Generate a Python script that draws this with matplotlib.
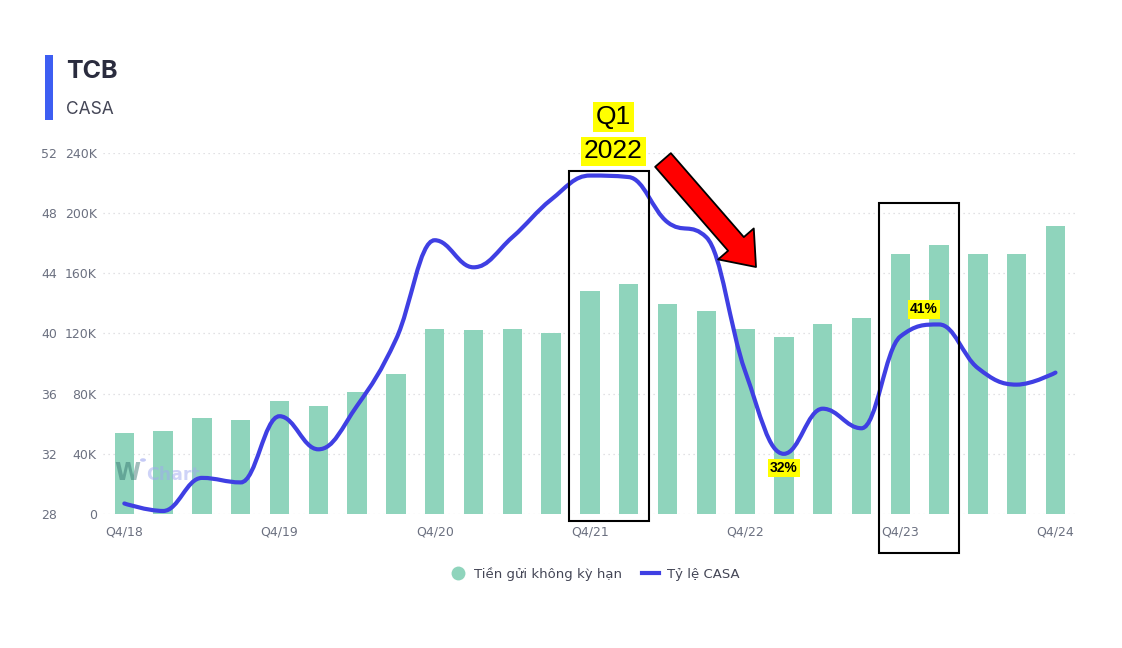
import matplotlib
matplotlib.use("Agg")
import matplotlib.pyplot as plt
import numpy as np
from matplotlib.path import Path
from matplotlib.patches import PathPatch, Rectangle, FancyArrowPatch, Circle
from matplotlib.lines import Line2D

plt.rcParams['font.family'] = ['DejaVu Sans']

# quý
quarters = ['Q4/18', 'Q1/19', 'Q2/19', 'Q3/19', 'Q4/19', 'Q1/20', 'Q2/20', 'Q3/20',
            'Q4/20', 'Q1/21', 'Q2/21', 'Q3/21', 'Q4/21', 'Q1/22', 'Q2/22', 'Q3/22',
            'Q4/22', 'Q1/23', 'Q2/23', 'Q3/23', 'Q4/23', 'Q1/24', 'Q2/24', 'Q3/24', 'Q4/24']
# Tiền gửi không kỳ hạn (nghìn tỷ -> K)
casa_dep = [54, 55, 64, 62.5, 75, 72, 81, 93, 123, 122, 123, 120, 148, 153,
            139.5, 135, 123, 118, 126, 130, 173, 179, 173, 173, 191.5]
# Tỷ lệ CASA (%)
casa_ratio = [28.7, 28.2, 30.4, 30.1, 34.5, 32.3, 35.2, 39.6, 46.2, 44.4, 46.4,
              48.9, 50.5, 50.4, 47.4, 46.4, 37.5, 32.0, 35.0, 33.7, 39.8, 40.6,
              37.7, 36.6, 37.4]

bar_color = '#8fd4bc'
line_color = '#3f3fe3'
grey = '#6b7080'


def spline_path(xs, ys):
    # kiểu spline của Highcharts (bezier, smoothing 1.5)
    n = len(xs)
    lc = [(xs[0], ys[0])] * n
    rc = [(xs[0], ys[0])] * n
    for i in range(n):
        x, y = xs[i], ys[i]
        if 0 < i < n - 1:
            xl, yl, xn, yn = xs[i - 1], ys[i - 1], xs[i + 1], ys[i + 1]
            lcx = (1.5 * x + xl) / 2.5
            lcy = (1.5 * y + yl) / 2.5
            rcx = (1.5 * x + xn) / 2.5
            rcy = (1.5 * y + yn) / 2.5
            corr = (rcy - lcy) * (rcx - x) / (rcx - lcx) + y - rcy
            lcy += corr
            rcy += corr
            if lcy > yl and lcy > y:
                lcy = max(yl, y); rcy = 2 * y - lcy
            elif lcy < yl and lcy < y:
                lcy = min(yl, y); rcy = 2 * y - lcy
            if rcy > yn and rcy > y:
                rcy = max(yn, y); lcy = 2 * y - rcy
            elif rcy < yn and rcy < y:
                rcy = min(yn, y); lcy = 2 * y - rcy
            lc[i] = (lcx, lcy)
            rc[i] = (rcx, rcy)
        else:
            lc[i] = (x, y)
            rc[i] = (x, y)
    verts = [(xs[0], ys[0])]
    codes = [Path.MOVETO]
    for i in range(1, n):
        verts += [rc[i - 1], lc[i], (xs[i], ys[i])]
        codes += [Path.CURVE4] * 3
    return Path(verts, codes)


fig = plt.figure(figsize=(11.22, 6.48), dpi=100)
ax = fig.add_axes([0.0918, 0.2068, 0.8662, 0.5571])
ax2 = ax.twinx()

x = np.arange(len(quarters))
ax.bar(x, casa_dep, width=0.5, color=bar_color, zorder=2)
ax.set_ylim(0, 240)
ax.set_yticks(np.arange(0, 241, 40))
ax.set_yticklabels(['0'] + ['%dK' % v for v in range(40, 241, 40)])
ax.set_xlim(-0.55, 24.5)
ax.set_xticks(x[::4])
ax.set_xticklabels(quarters[::4])
ax.grid(axis='y', color='#d8d8dc', linestyle=(0, (1, 3)), linewidth=0.9, zorder=0)
ax.set_axisbelow(True)
ax.tick_params(axis='y', length=0, pad=4.5, labelsize=9, labelcolor=grey)
ax.tick_params(axis='x', length=0, pad=8, labelsize=9, labelcolor=grey)

ax2.add_patch(PathPatch(spline_path(x, casa_ratio), facecolor='none',
                        edgecolor=line_color, linewidth=3, zorder=3,
                        capstyle='round'))
ax2.set_ylim(28, 52)
ax2.set_yticks(np.arange(28, 53, 4))
ax2.yaxis.set_ticks_position('left')
ax2.tick_params(axis='y', length=0, pad=33, labelsize=9, labelcolor=grey)

for a in (ax, ax2):
    for s in a.spines.values():
        s.set_visible(False)

# khung đánh dấu
ax2.add_patch(Rectangle((11.47, 27.53), 2.06, 23.27, fill=False, edgecolor='black',
                        linewidth=1.5, clip_on=False, zorder=5))
ax2.add_patch(Rectangle((19.46, 25.4), 2.06, 23.28, fill=False, edgecolor='black',
                        linewidth=1.5, clip_on=False, zorder=5))

ann_font = ['Liberation Sans', 'DejaVu Sans']
ax2.text(12.6, 54.4, 'Q1', ha='center', va='center', fontsize=19, family=ann_font,
         bbox=dict(facecolor='#ffff00', edgecolor='none', pad=2), clip_on=False, zorder=6)
ax2.text(12.6, 52.1, '2022', ha='center', va='center', fontsize=19, family=ann_font,
         bbox=dict(facecolor='#ffff00', edgecolor='none', pad=2), clip_on=False, zorder=6)
ax2.text(17, 31.05, '32%', ha='center', va='center', fontsize=10, fontweight='bold',
         family=ann_font, bbox=dict(facecolor='#ffff00', edgecolor='none', pad=1.5), zorder=6)
ax2.text(20.6, 41.6, '41%', ha='center', va='center', fontsize=10, fontweight='bold',
         family=ann_font, bbox=dict(facecolor='#ffff00', edgecolor='none', pad=1.5), zorder=6)

# mũi tên đỏ (toạ độ pixel -> inch)
arrow = FancyArrowPatch((6.63, (648 - 160) / 100), (7.56, (648 - 267) / 100),
                        transform=fig.dpi_scale_trans,
                        arrowstyle='simple,head_length=22,head_width=34,tail_width=15',
                        mutation_scale=1, facecolor='#ff0000', edgecolor='black',
                        linewidth=1.3, shrinkA=0, shrinkB=0, zorder=7)
fig.patches.append(arrow)

# watermark (trên cột, dưới đường)
ax2.text(114 / 1122, 1 - 480 / 648, 'W', fontsize=17, fontweight='bold',
         color='#2f6e6a', alpha=0.45, transform=fig.transFigure, zorder=2)
ax2.add_patch(Circle((143 / 1122, 1 - 460 / 648), 3 / 1122,
                     transform=fig.transFigure, facecolor='#9fa8f0',
                     edgecolor='none', alpha=0.6, zorder=2, clip_on=False))
ax2.text(146 / 1122, 1 - 480 / 648, 'Chart', fontsize=12.5, fontweight='bold',
         color='#9fa8f0', alpha=0.5, transform=fig.transFigure, zorder=2)

# tiêu đề
fig.patches.append(Rectangle((45 / 1122, 1 - 120 / 648), 8 / 1122, 65 / 648,
                             transform=fig.transFigure, facecolor='#3d5ef2',
                             edgecolor='none'))
fig.text(66 / 1122, 1 - 71 / 648, 'TCB', fontsize=18, fontweight='bold',
         color='#2a2c3e', va='center', family=['Inter', 'DejaVu Sans'])
fig.text(66 / 1122, 1 - 110 / 648, 'CASA', fontsize=12.5, color='#444656',
         va='center', family=['Inter', 'DejaVu Sans'])

handles = [Line2D([], [], marker='o', linestyle='none', markersize=10,
                  markerfacecolor=bar_color, markeredgecolor='none'),
           Line2D([], [], color=line_color, linewidth=3)]
fig.legend(handles, ['Tiền gửi không kỳ hạn', 'Tỷ lệ CASA'], loc='center',
           bbox_to_anchor=(0.53, 1 - 574 / 648), ncol=2, frameon=False,
           fontsize=9.5, labelcolor='#444656', handlelength=1.3,
           handletextpad=0.6, columnspacing=1.5)

fig.savefig('out.png', dpi=100, facecolor='white')
